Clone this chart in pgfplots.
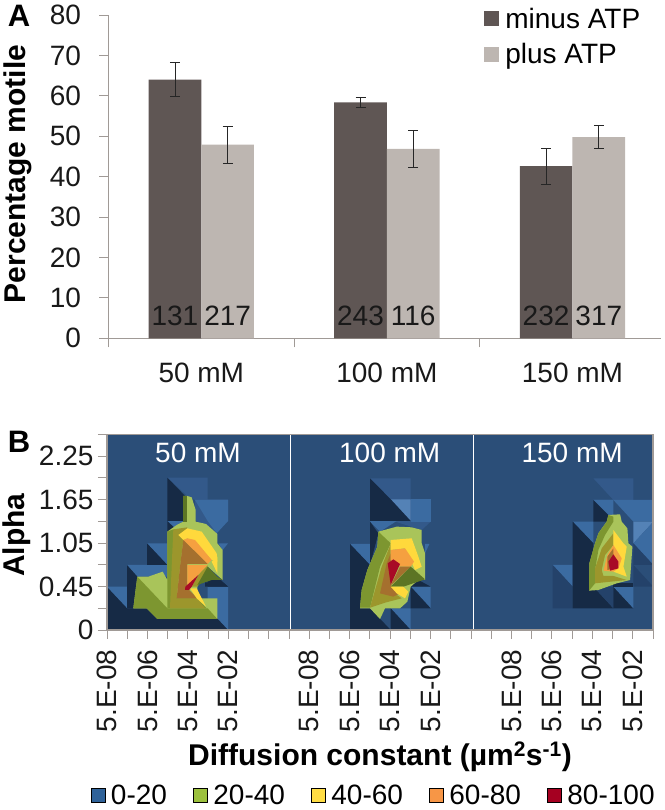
\documentclass[border=0pt]{standalone}
\usepackage{fontspec}
\setmainfont{Liberation Sans}
\usepackage{pgfplots}
\pgfplotsset{compat=1.18}

\definecolor{minusc}{HTML}{5F5654}
\definecolor{plusc}{HTML}{BDB6B1}
\definecolor{axisc}{HTML}{A09A96}
\definecolor{bg}{HTML}{2B4E78}
\definecolor{top}{HTML}{33598A}
\definecolor{lt}{HTML}{3B6BA1}
\definecolor{llt}{HTML}{5482B6}
\definecolor{mid}{HTML}{24426A}
\definecolor{dk}{HTML}{162A45}
\definecolor{lime}{HTML}{A9C45A}
\definecolor{olive}{HTML}{7D9630}
\definecolor{dkolive}{HTML}{5C7524}
\definecolor{khaki}{HTML}{9C962C}
\definecolor{yel}{HTML}{FFD93C}
\definecolor{org}{HTML}{F5A040}
\definecolor{brn}{HTML}{A5702E}
\definecolor{red}{HTML}{A80A26}
\definecolor{dkred}{HTML}{6D0A1E}
\definecolor{leg1}{HTML}{2F6299}
\definecolor{leg2}{HTML}{9CC13E}
\definecolor{leg3}{HTML}{FFDD44}
\definecolor{leg4}{HTML}{F79646}
\definecolor{leg5}{HTML}{A50021}

\newcommand{\fs}{\fontsize{28}{30}\selectfont}
\newcommand{\fb}{\fontsize{30}{32}\selectfont\bfseries}

% contour patches, vertices read off the crops of each panel
\newcommand{\pa}[2]{\addplot[forget plot,draw=none,fill=#1,x filter/.expression={(80+x/3-107)/20.22},y filter/.expression={(210-y/3)/21.73}] coordinates {#2} -- cycle;}
\newcommand{\pb}[2]{\addplot[forget plot,draw=none,fill=#1,x filter/.expression={(290+x/3-107)/20.22},y filter/.expression={(210-y/3)/21.73}] coordinates {#2} -- cycle;}
\newcommand{\pc}[2]{\addplot[forget plot,draw=none,fill=#1,x filter/.expression={(470+x/3-107)/20.22},y filter/.expression={(210-y/3)/21.73}] coordinates {#2} -- cycle;}

\begin{document}
\begin{tikzpicture}
\path[use as bounding box] (0pt,0pt) rectangle (664pt,810pt);

\begin{axis}[
	at={(108.5pt,471.7pt)}, anchor=south west,
	scale only axis, width=552.1pt, height=323.3pt,
	xmin=-0.5, xmax=2.475, ymin=0, ymax=80,
	axis x line*=bottom, axis y line*=left,
	axis line style={-,axisc,line width=0.9pt},
	every tick/.style={axisc,line width=0.9pt},
	tick align=outside,
	major tick length=9pt, minor tick length=9pt,
	xtick={0,1,2}, xticklabels={50 mM,100 mM,150 mM},
	minor xtick={-0.5,0.5,1.5},
	x tick style={draw=none},
	minor x tick style={draw=axisc,line width=0.9pt},
	ytick={0,10,...,80},
	tick label style={font=\fs,text=black!90},
	/pgf/number format/assume math mode=true,
	xticklabel style={yshift=-12pt},
	yticklabel style={xshift=-15pt},
	ylabel={Percentage motile},
	ylabel style={font=\fb,at={(axis description cs:-0.165,0.508)},anchor=center},
	legend style={draw=none,fill=none,font=\fs,at={(0.675,1.035)},anchor=north west,row sep=10pt,
		nodes={inner xsep=6pt}},
	legend cell align=left,
	area legend,
	legend image code/.code={\fill[#1] (0pt,-7pt) rectangle (15pt,8pt);},
]
	\addplot[ybar,bar width=52.7pt,bar shift=-26.35pt,fill=minusc,draw=none]
		coordinates {(0,64) (1,58.4) (2,42.6)};
	\addplot[ybar,bar width=52.7pt,bar shift=26.35pt,fill=plusc,draw=none]
		coordinates {(0,47.9) (1,46.9) (2,49.8)};
	\legend{minus ATP,plus ATP}
	% error bars, one point per bar
	\addplot[forget plot,draw=none,mark=none,
		error bars/.cd,y dir=both,y explicit,
		error bar style={black!85,line width=0.8pt},
		error mark options={rotate=90,mark size=5pt,black!85,line width=0.8pt}]
		coordinates {
		(-0.142,64) +- (0,4.2)
		(0.858,58.4) +- (0,1.2)
		(1.858,42.6) +- (0,4.5)
		(0.142,47.9) +- (0,4.6)
		(1.142,46.9) +- (0,4.5)
		(2.142,49.8) +- (0,2.9)
	};
	% cell counts at the foot of each bar
	\addplot[forget plot,draw=none,mark=none,
		nodes near coords,point meta=explicit symbolic,
		every node near coord/.style={font=\fs,text=black!90,anchor=base,yshift=13pt,inner sep=0pt}]
		table[meta=n] {
		x y n
		-0.142 0 131
		0.142 0 217
		0.858 0 243
		1.142 0 116
		1.858 0 232
		2.142 0 317
	};
\end{axis}

\begin{axis}[
	at={(107pt,180pt)}, anchor=south west,
	scale only axis, width=546pt, height=195.6pt,
	xmin=0, xmax=27, ymin=0, ymax=9,
	axis background/.style={fill=bg},
	axis on top,
	axis line style={axisc,line width=1.2pt},
	every tick/.style={axisc,line width=0.9pt},
	tick align=outside, tick pos=left,
	major tick length=9pt, minor tick length=9pt,
	xtick={0,2,4,6,10,12,14,16,20,22,24,26},
	xticklabels={5.E-08,5.E-06,5.E-04,5.E-02,5.E-08,5.E-06,5.E-04,5.E-02,5.E-08,5.E-06,5.E-04,5.E-02},
	minor xtick={1,3,5,7,8,9,11,13,15,17,18,19,21,23,25,27},
	ytick={0,2,4,6,8},
	yticklabels={0,0.45,1.05,1.65,2.25},
	minor ytick={1,3,5,7,9},
	tick label style={font=\fs,text=black!90},
	xticklabel style={rotate=90,anchor=east,xshift=-7pt},
	yticklabel style={xshift=-1pt},
	xlabel={Diffusion constant (µm\textsuperscript{2}s\textsuperscript{-1})},
	xlabel style={font=\fb,at={(axis description cs:0.5,-0.65)},anchor=center},
	ylabel={Alpha},
	ylabel style={font=\fb,at={(axis description cs:-0.165,0.485)},anchor=center},
	legend style={draw=none,fill=none,font=\fs,at={(-0.036,-0.77)},anchor=north west,legend columns=5,
		/tikz/every even column/.append style={column sep=20pt},nodes={inner xsep=6pt}},
	legend image code/.code={\fill[#1] (0pt,-7pt) rectangle (14pt,7pt);},
]
	% panel 50 mM
	\pa{lt}{(80,500) (141,500) (141,565)}
	\pa{lt}{(141,435) (262,435) (262,470) (170,470)}
	\pa{lt}{(201,370) (262,370) (262,435)}
	\pa{top}{(262,173) (383,173) (383,238) (444,238) (444,303) (405,340) (345,300) (345,240) (322,228)}
	\pa{lt}{(345,240) (444,240) (444,303) (383,303)}
	\pa{lt}{(383,303) (444,303) (410,340)}
	\pa{lt}{(262,303) (322,303) (285,330)}
	\pa{lt}{(415,370) (444,370) (428,390)}
	\pa{lt}{(383,500) (444,500) (444,630) (383,565)}
	\pa{dk}{(80,500) (80,630) (444,630) (383,565) (141,565)}
	\pa{dk}{(141,435) (141,565) (200,565) (172,470)}
	\pa{dk}{(201,370) (201,435) (262,435)}
	\pa{dk}{(262,173) (262,303) (322,303) (322,235)}
	\pa{dk}{(262,303) (262,480) (290,330)}
	\pa{dk}{(383,500) (444,500) (420,478) (383,478)}
	\pa{lime}{(322,228) (335,232) (347,270) (347,305) (378,312) (412,342) (412,370) (428,390) (428,480) (383,440) (352,500) (352,535) (412,535) (412,597) (232,597) (200,565) (160,565) (172,470) (205,470) (248,455) (262,480) (262,335) (290,315) (310,305) (310,228)}
	\pa{olive}{(172,470) (262,565) (383,565) (412,597) (232,597) (200,565) (160,565)}
	\pa{olive}{(262,335) (280,328) (300,360) (290,440) (290,535) (352,535) (380,565) (262,565)}
	\pa{dkolive}{(310,228) (322,228) (322,305) (310,305)}
	\pa{khaki}{(280,328) (322,322) (310,360) (300,440) (290,535) (352,535) (375,565) (270,565) (275,440)}
	\pa{yel}{(295,345) (322,325) (365,335) (410,400) (412,425) (395,420) (345,365) (322,355) (310,360)}
	\pa{org}{(322,355) (345,360) (395,420) (383,432) (310,360)}
	\pa{brn}{(310,360) (383,432) (322,432) (322,505) (352,535) (290,535) (300,440)}
	\pa{org}{(322,435) (383,435) (355,465) (322,495)}
	\pa{khaki}{(383,436) (355,465) (335,500) (352,500) (383,460)}
	\pa{dkolive}{(383,440) (412,470) (428,480) (395,480) (352,495)}
	\pa{yel}{(330,505) (350,505) (378,560) (350,535)}
	\pa{yel}{(395,425) (412,410) (412,460)}
	\pa{red}{(316,500) (355,465) (335,500) (327,510) (315,510)}
	\pa{dk}{(375,487) (428,487) (444,500) (375,500)}

	% panel 100 mM
	\pb{top}{(240,175) (362,175) (362,238) (422,238) (422,305) (395,330) (300,300)}
	\pb{llt}{(302,238) (362,238) (362,303)}
	\pb{lt}{(362,238) (422,238) (422,305) (362,305)}
	\pb{lt}{(240,303) (320,303) (270,335) (240,305)}
	\pb{lt}{(180,372) (240,372) (240,435)}
	\pb{lt}{(362,500) (422,500) (422,565)}
	\pb{lt}{(302,565) (362,565) (362,630)}
	\pb{lt}{(405,372) (418,372) (405,400)}
	\pb{dk}{(240,175) (240,303) (362,303) (302,238)}
	\pb{dk}{(180,372) (180,630) (302,630) (240,565) (210,565) (240,435)}
	\pb{dk}{(240,305) (240,435) (265,340)}
	\pb{dk}{(302,565) (302,630) (362,630)}
	\pb{dk}{(362,500) (362,565) (422,565)}
	\pb{dk}{(385,480) (422,500) (362,500)}
	\pb{lime}{(265,335) (320,320) (365,322) (395,330) (395,370) (405,400) (405,480) (385,480) (362,500) (352,545) (330,565) (285,565) (270,597) (240,565) (210,565) (215,510) (232,450) (262,380)}
	\pb{olive}{(210,563) (215,510) (232,450) (262,380) (265,335) (302,370) (270,440) (240,563)}
	\pb{khaki}{(240,563) (275,440) (302,372) (302,480) (300,510) (335,535) (285,548)}
	\pb{brn}{(270,520) (290,430) (302,400) (302,495) (330,520) (310,530)}
	\pb{yel}{(302,360) (365,355) (385,410) (395,440) (375,450) (345,385) (302,390)}
	\pb{org}{(302,390) (345,385) (372,425) (362,440) (330,440) (302,420)}
	\pb{brn}{(302,497) (330,440) (362,440)}
	\pb{dkolive}{(362,440) (405,478) (340,500) (302,500)}
	\pb{yel}{(302,500) (340,500) (355,515) (345,535) (320,520)}
	\pb{red}{(293,430) (310,418) (330,432) (302,495)}

	% panel 150 mM
	\pc{top}{(370,175) (490,175) (490,240) (430,240)}
	\pc{lt}{(370,240) (550,240) (550,305) (490,305) (430,240)}
	\pc{lt}{(370,240) (430,240) (430,290) (415,290)}
	\pc{llt}{(490,305) (550,305) (490,370)}
	\pc{lt}{(308,305) (370,305) (370,370)}
	\pc{lt}{(490,370) (550,305) (550,435) (490,370)}
	\pc{lt}{(248,435) (308,435) (308,500)}
	\pc{mid}{(248,435) (248,565) (308,565) (308,500)}
	\pc{dk}{(308,305) (370,370) (370,500) (430,565) (308,565)}
	\pc{mid}{(370,500) (430,500) (430,565)}
	\pc{dk}{(430,500) (490,565) (430,565)}
	\pc{lt}{(430,500) (490,500) (490,565)}
	\pc{dk}{(370,240) (370,305) (420,305) (420,290)}
	\pc{mid}{(490,370) (550,435) (490,435)}
	\pc{mid}{(490,435) (550,500) (490,500)}
	\pc{dk}{(430,490) (490,490) (490,500) (430,500)}
	\pc{lime}{(415,285) (450,283) (455,305) (472,325) (475,370) (487,380) (480,480) (440,490) (385,510) (357,512) (358,430) (375,370) (385,340) (410,305)}
	\pc{olive}{(357,512) (358,430) (375,370) (385,340) (410,305) (415,285) (430,290) (430,305) (405,345) (385,390) (375,450) (375,490)}
	\pc{khaki}{(375,490) (375,445) (395,385) (430,340) (430,375) (405,405) (395,450) (400,468) (430,468) (470,480)}
	\pc{yel}{(430,330) (460,370) (470,380) (460,440) (470,470) (430,455) (445,430) (430,375)}
	\pc{org}{(430,375) (455,415) (445,445) (430,455) (400,452) (412,405)}
	\pc{brn}{(412,410) (430,385) (430,445) (412,450)}
	\pc{red}{(415,425) (430,403) (445,425) (445,445) (420,452)}

	% white gaps between the panels
	\addplot[forget plot,white,line width=1.6pt] coordinates {(9.08,0) (9.08,9)};
	\addplot[forget plot,white,line width=1.6pt] coordinates {(18.13,0) (18.13,9)};

	\addlegendimage{fill=leg1}\addlegendentry{0-20}
	\addlegendimage{fill=leg2}\addlegendentry{20-40}
	\addlegendimage{fill=leg3}\addlegendentry{40-60}
	\addlegendimage{fill=leg4}\addlegendentry{60-80}
	\addlegendimage{fill=leg5}\addlegendentry{80-100}

	\node[font=\fs,text=white,anchor=base] at (axis cs:4.5,7.7) {50 mM};
	\node[font=\fs,text=white,anchor=base] at (axis cs:13.98,7.7) {100 mM};
	\node[font=\fs,text=white,anchor=base] at (axis cs:23,7.7) {150 mM};
\end{axis}

\node[font=\fontsize{31}{33}\selectfont\bfseries,anchor=center] at (19pt,794pt) {A};
\node[font=\fontsize{31}{33}\selectfont\bfseries,anchor=center] at (19pt,368pt) {B};
\end{tikzpicture}
\end{document}
